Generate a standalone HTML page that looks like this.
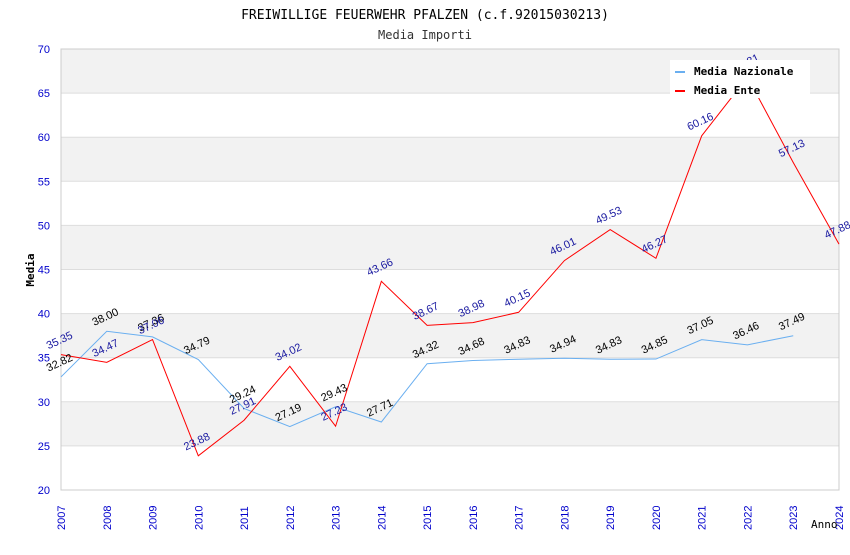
<!DOCTYPE html>
<html><head><meta charset="utf-8"><style>
body{margin:0;background:#fff;width:850px;height:550px;overflow:hidden}
svg{font-family:"DejaVu Sans Mono","Liberation Mono",monospace}
</style></head><body>
<svg id="chart" width="850" height="550" xmlns="http://www.w3.org/2000/svg">
<text x="425" y="19" text-anchor="middle" font-size="13" fill="#000">FREIWILLIGE FEUERWEHR PFALZEN (c.f.92015030213)</text>
<text x="425" y="39" text-anchor="middle" font-size="12" fill="#333">Media Importi</text>
<g id="bands"></g><g id="axes"></g><g id="series"></g><g id="labels"></g>
<g>
<rect x="670" y="60" width="140" height="38" fill="#fff"/>
<g><rect x="675" y="71" width="10" height="2" fill="#6aaff0"/><text x="694" y="75" font-size="11" font-weight="bold">Media Nazionale</text></g>
<g><rect x="675" y="90" width="10" height="2" fill="#f00"/><text x="694" y="94" font-size="11" font-weight="bold">Media Ente</text></g>
</g>
<text x="0" y="0" transform="translate(34,270) rotate(-90)" text-anchor="middle" font-size="11" font-weight="bold">Media</text>
<text x="811" y="528" font-size="11">Anno</text>
</svg>
<script>
const years=[2007,2008,2009,2010,2011,2012,2013,2014,2015,2016,2017,2018,2019,2020,2021,2022,2023,2024];
const nazionale=[32.82,38.00,37.36,34.79,29.24,27.19,29.43,27.71,34.32,34.68,34.83,34.94,34.83,34.85,37.05,36.46,37.49,null];
const ente=[35.35,34.47,37.06,23.88,27.91,34.02,27.23,43.66,38.67,38.98,40.15,46.01,49.53,46.27,60.16,66.81,57.13,47.88];
const yTicks=[20,25,30,35,40,45,50,55,60,65,70];
const L=61,R=839,T=49,B=490;
const NS="http://www.w3.org/2000/svg";
const xS=i=>L+(R-L)*i/(years.length-1);
const yS=v=>B-(v-20)/50*(B-T);
function mk(t,a,p){const e=document.createElementNS(NS,t);for(const k in a)e.setAttribute(k,a[k]);p.appendChild(e);return e;}
const bands=document.getElementById('bands'),axes=document.getElementById('axes'),ser=document.getElementById('series'),lab=document.getElementById('labels');
for(let i=0;i<yTicks.length-1;i++){
  const r=mk('rect',{x:L,y:yS(yTicks[i+1]),width:R-L,height:yS(yTicks[i])-yS(yTicks[i+1]),fill:(i%2===1)?'#f2f2f2':'#fff'},bands);
  
  
}
yTicks.forEach(v=>{
  const l=mk('line',{x1:L,x2:R,y1:yS(v),y2:yS(v),stroke:'#ddd'},axes);
  
  
  const t=mk('text',{x:L-11,y:yS(v)+4,'text-anchor':'end','font-size':'11',fill:'#00c','font-family':'Liberation Sans, sans-serif'},axes);
  t.textContent=v;
  
  
});
mk('rect',{x:L,y:T,width:R-L,height:B-T,fill:'none',stroke:'#ccc'},axes);
years.forEach((y,i)=>{
  const t=mk('text',{x:0,y:0,transform:`translate(${xS(i)+4},${B+40}) rotate(-90)`,'font-size':'11',fill:'#00c','font-family':'Liberation Sans, sans-serif'},axes);
  t.textContent=y;
  
  
});
function series(arr,color,lc,name){
  const pts=arr.map((v,i)=>v==null?null:[xS(i),yS(v)]).filter(p=>p);
  const pl=mk('polyline',{points:pts.map(p=>p.join(',')).join(' '),fill:'none',stroke:color,'stroke-width':'1'},ser);
  
  
  arr.forEach((v,i)=>{if(v==null)return;
    const t=mk('text',{x:0,y:0,transform:`translate(${xS(i)},${yS(v)-11}) rotate(-25)`,'text-anchor':'middle','font-size':'11',fill:lc,'font-family':'Liberation Sans, sans-serif'},lab);
    t.textContent=v.toFixed(2);
    
    
  });
}
series(nazionale,'#6aaff0','#000','nazionale');
series(ente,'#f00','#1a1aa0','ente');
</script>
</body></html>
